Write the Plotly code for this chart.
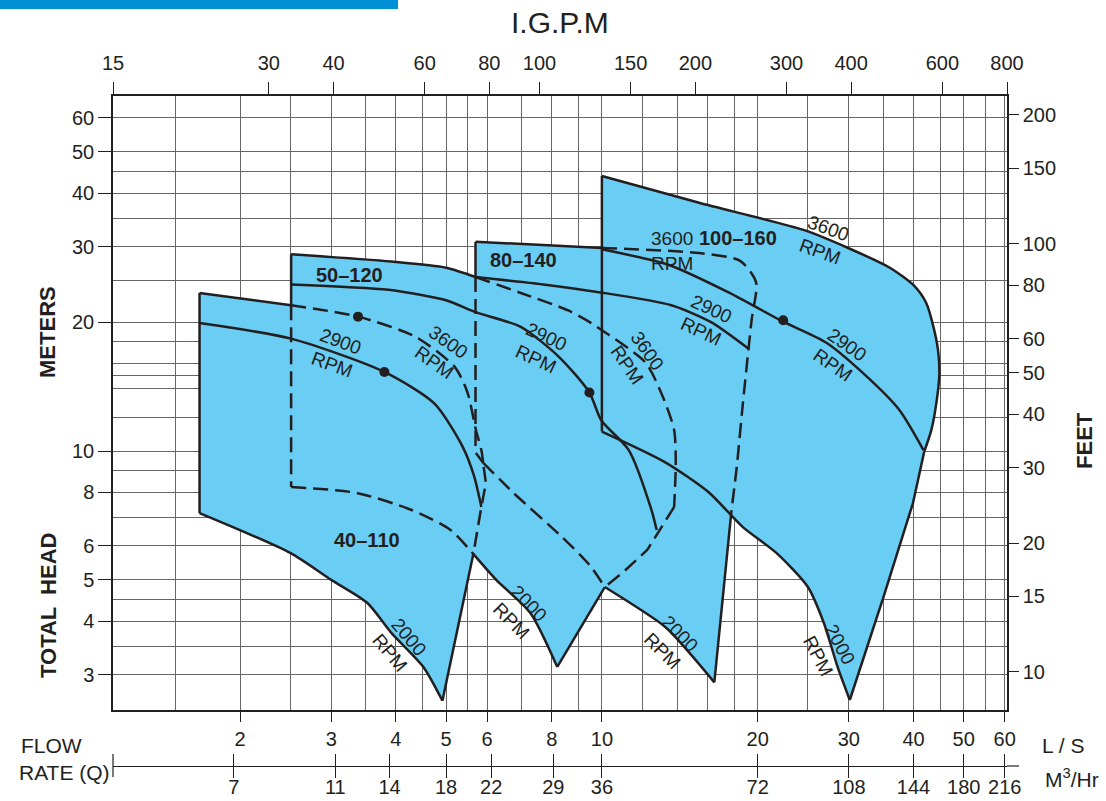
import math
import plotly.graph_objects as go

# ---------------- data: flow Q in L/s, total head H in m ----------------
# Model 40-110
A_Q_3600 = [1.67, 2.51, 3.38, 4.36, 5.20, 5.50, 5.71, 5.85, 5.91]
A_H_3600 = [23.4, 21.9, 20.6, 18.5, 15.7, 13.7, 11.2, 10.05, 9.18]
A_Q_END = [5.91, 5.97, 5.85, 5.65, 4.92]
A_H_END = [9.18, 8.42, 7.40, 5.78, 2.61]
A_Q_2900 = [1.67, 2.51, 3.80, 4.75, 5.39, 5.67, 5.81, 5.85]
A_H_2900 = [19.9, 18.3, 15.3, 12.9, 10.2, 8.70, 7.69, 7.40]
A_Q_2000 = [1.67, 2.50, 3.00, 3.52, 3.92, 4.52, 4.92]
A_H_2000 = [7.16, 5.78, 5.00, 4.42, 3.76, 3.13, 2.61]

# Model 50-120
B_Q_3600 = [2.51, 3.92, 5.00, 5.70, 6.97, 8.61, 9.54, 9.97, 12.14, 13.11, 13.79, 13.89, 13.79]
B_H_3600 = [28.8, 27.7, 26.8, 25.5, 23.4, 21.3, 19.9, 19.2, 16.1, 13.4, 11.2, 9.38, 7.40]
B_Q_END = [13.79, 12.96, 12.23, 10.99, 10.13, 8.20]
B_H_END = [7.40, 6.54, 5.87, 5.21, 4.81, 3.13]
B_Q_2900 = [2.51, 3.87, 5.00, 5.70, 6.97, 8.26, 9.46, 9.97, 11.27, 12.47, 12.76]
B_H_2900 = [24.5, 23.8, 22.5, 21.1, 19.5, 16.6, 13.7, 11.8, 10.05, 7.28, 6.54]
B_Q_2000 = [2.51, 3.36, 4.29, 5.10, 5.67, 6.25, 7.28, 8.20]
B_H_2000 = [8.24, 7.98, 7.28, 6.54, 5.71, 5.00, 4.18, 3.13]

# Model 80-140
C_Q_3600 = [5.70, 7.70, 10.0, 15.41, 18.50, 19.85, 19.46, 18.72, 18.22, 17.80]
C_H_3600 = [30.8, 30.3, 29.8, 29.0, 27.8, 24.8, 20.2, 12.9, 9.18, 7.28]
C_Q_END = [17.80, 16.49]
C_H_END = [7.28, 2.88]
C_Q_2900 = [5.70, 7.70, 9.87, 13.62, 16.25, 19.24]
C_H_2900 = [25.5, 24.5, 23.5, 21.9, 20.0, 17.3]
C_Q_2000 = [5.71, 5.90, 6.75, 8.37, 9.46, 10.13, 13.26, 14.78, 16.49]
C_H_2000 = [9.89, 9.38, 7.98, 6.30, 5.42, 4.81, 3.88, 3.37, 2.88]

# Model 100-160
D_Q_3600 = [10.0, 15.41, 24.61, 29.9, 36.0, 40.0, 42.3, 43.7, 44.6, 44.87, 44.35, 43.3, 41.93]
D_H_3600 = [43.9, 38.0, 32.8, 29.8, 26.8, 24.4, 22.2, 19.5, 17.2, 15.2, 13.15, 11.2, 9.95]
D_Q_END = [41.93, 39.9, 35.0, 30.12]
D_H_END = [9.95, 7.56, 4.56, 2.62]
D_Q_2900 = [10.0, 13.47, 17.53, 22.30, 27.14, 31.96, 37.49, 41.8]
D_H_2900 = [29.6, 27.2, 23.5, 20.1, 17.9, 15.2, 12.5, 10.05]
D_Q_2000 = [10.0, 13.21, 16.06, 18.72, 21.73, 25.0, 26.85, 28.53, 30.12]
D_H_2000 = [11.1, 9.43, 8.02, 6.64, 5.78, 4.81, 3.96, 3.13, 2.62]

# best-efficiency dots
DOT_Q = [3.38, 3.80, 9.46, 22.4]
DOT_H = [20.6, 15.3, 13.7, 20.2]

# axis ticks
LS_TICKS = [2, 3, 4, 5, 6, 8, 10, 20, 30, 40, 50, 60]
M3H_TICKS = [7, 11, 14, 18, 22, 29, 36, 72, 108, 144, 180, 216]
IGPM_TICKS = [15, 30, 40, 60, 80, 100, 150, 200, 300, 400, 600, 800]
M_TICKS = [3, 4, 5, 6, 8, 10, 20, 30, 40, 50, 60]
FT_TICKS = [10, 15, 20, 30, 40, 50, 60, 80, 100, 150, 200]
LS_GRID_MINOR = [1.5, 2.5, 3.5, 4.5, 5.5, 7, 9, 12, 14, 16, 18, 25, 35, 45, 55]
M_GRID_MINOR = [3.5, 4.5, 7, 9, 12, 14, 15, 16, 18, 25, 35, 45]

# unit conversions / ranges
IGPM_PER_LS = 13.198
M3H_PER_LS = 3.6
FT_PER_M = 1 / 0.3048
Q_MIN, Q_MAX = 15 / IGPM_PER_LS, 800 / IGPM_PER_LS
H_MIN, H_MAX = 2.483, 67.5

# ---------------- styling ----------------
INK = "#231f20"
BLUE = "#69cdf4"
GRID = "#666666"
FONT = "Liberation Sans, Arial, Helvetica, sans-serif"
DASH = "15px,7px"
LW = 2.5

fig = go.Figure()


def fill_region(qt, ht, qe, he, qb, hb):
    xs = list(qt) + list(qe[1:]) + list(reversed(qb))[1:]
    ys = list(ht) + list(he[1:]) + list(reversed(hb))[1:]
    fig.add_trace(go.Scatter(x=xs, y=ys, mode="lines", fill="toself",
                             fillcolor=BLUE, line=dict(width=0),
                             hoverinfo="skip", showlegend=False))


def line(q, h, dash="solid", smooth=True):
    fig.add_trace(go.Scatter(
        x=q, y=h, mode="lines",
        line=dict(color=INK, width=LW, dash=dash,
                  shape="spline" if smooth else "linear", smoothing=0.7),
        hoverinfo="skip", showlegend=False))


def split(q, h, k, first="solid", second=DASH, smooth=True):
    line(q[:k + 1], h[:k + 1], first, smooth)
    line(q[k:], h[k:], second, smooth)


fill_region(A_Q_3600, A_H_3600, A_Q_END, A_H_END, A_Q_2000, A_H_2000)
fill_region(B_Q_3600, B_H_3600, B_Q_END, B_H_END, B_Q_2000, B_H_2000)
fill_region(C_Q_3600, C_H_3600, C_Q_END, C_H_END, C_Q_2000, C_H_2000)
fill_region(D_Q_3600, D_H_3600, D_Q_END, D_H_END, D_Q_2000, D_H_2000)

# 40-110
line([A_Q_3600[0]] * 2, [A_H_3600[0], A_H_2000[0]], smooth=False)
split(A_Q_3600, A_H_3600, 1)
split(A_Q_END, A_H_END, 3, DASH, "solid", smooth=False)
line(A_Q_2900, A_H_2900)
line(A_Q_2000, A_H_2000)

# 50-120
line([B_Q_3600[0]] * 2, [B_H_3600[0], A_H_3600[1]], smooth=False)
line([B_Q_3600[0]] * 2, [A_H_3600[1], B_H_2000[0]], DASH, smooth=False)
split(B_Q_3600, B_H_3600, 3)
split(B_Q_END, B_H_END, 4, DASH, "solid", smooth=False)
line(B_Q_2900, B_H_2900)
split(B_Q_2000, B_H_2000, 4, DASH, "solid")

# 80-140
line([C_Q_3600[0]] * 2, [C_H_3600[0], C_H_2900[0]], smooth=False)
line([C_Q_3600[0]] * 2, [C_H_2900[0], C_H_2000[0]], DASH, smooth=False)
split(C_Q_3600, C_H_3600, 2)
line(C_Q_END, C_H_END, smooth=False)
line(C_Q_2900, C_H_2900)
line(C_Q_2000[:2], C_H_2000[:2], smooth=False)
line(C_Q_2000[1:6], C_H_2000[1:6], DASH)
line(C_Q_2000[5:], C_H_2000[5:])

# 100-160
line([D_Q_3600[0]] * 2, [D_H_3600[0], D_H_2000[0]], smooth=False)
line(D_Q_3600, D_H_3600)
line(D_Q_END, D_H_END, smooth=False)
line(D_Q_2900, D_H_2900)
line(D_Q_2000, D_H_2000)

fig.add_trace(go.Scatter(x=DOT_Q, y=DOT_H, mode="markers",
                         marker=dict(color=INK, size=10),
                         hoverinfo="skip", showlegend=False))

# empty traces so that the secondary unit axes (IGPM, feet, m3/h) get drawn
for xa, ya in (("x2", "y"), ("x", "y2"), ("x3", "y"), ("x4", "y"), ("x5", "y")):
    fig.add_trace(go.Scatter(x=[], y=[], xaxis=xa, yaxis=ya, mode="markers",
                             hoverinfo="skip", showlegend=False))


# ---------------- curve labels ----------------
def label(text, q, h, angle=0, bold=False, size=19):
    fig.add_annotation(x=math.log10(q), y=math.log10(h), xref="x", yref="y",
                       text=f"<b>{text}</b>" if bold else text,
                       showarrow=False, textangle=angle,
                       font=dict(family=FONT, size=size, color=INK))


label("50–120", 3.25, 25.8, bold=True, size=20)
label("80–140", 7.06, 27.9, bold=True, size=20)
label("100–160", 18.3, 31.4, bold=True, size=20)
label("40–110", 3.52, 6.2, bold=True, size=20)
label("3600<br>RPM", 13.67, 29.3)
label("2900<br>RPM", 3.06, 16.9, 20)
label("3600<br>RPM", 4.88, 17.0, 35)
label("2900<br>RPM", 7.63, 17.4, 25)
label("3600<br>RPM", 11.7, 16.5, 55)
label("2900<br>RPM", 15.86, 20.2, 25)
label("3600<br>RPM", 26.85, 31.1, 20)
label("2900<br>RPM", 28.84, 16.8, 35)
label("2000<br>RPM", 4.06, 3.52, 50)
label("2000<br>RPM", 6.94, 4.21, 45)
label("2000<br>RPM", 13.57, 3.58, 45)
label("2000<br>RPM", 27.44, 3.43, 62)


# ---------------- axis titles / texts in page space ----------------
def ptext(text, x, y, size=21, angle=0, xanchor="center"):
    fig.add_annotation(x=x, y=y, xref="paper", yref="paper", text=text,
                       showarrow=False, textangle=angle, xanchor=xanchor,
                       yanchor="middle",
                       font=dict(family=FONT, size=size, color=INK))


ptext("I.G.P.M", 0.5, 1.1104, size=30)
ptext("<b>METERS</b>", -0.0727, 0.6478, size=22, angle=-90)
ptext("<b>TOTAL  HEAD</b>", -0.0727, 0.2388, size=22, angle=-90)
ptext("<b>FEET</b>", 1.0872, 0.4866, size=22, angle=-90)
ptext("FLOW", -0.1051, 0.0299, xanchor="left")
ptext("RATE (Q)", -0.1074, -0.0090, xanchor="left")
ptext("L / S", 1.0626, 0.0313)
ptext("M<sup>3</sup>/Hr", 1.0727, -0.0179)

fig.add_shape(type="rect", xref="paper", yref="paper", x0=-0.1264, x1=0.3188,
              y0=1.1299, y1=1.16, fillcolor="#0090d6", line=dict(width=0))
fig.add_shape(type="line", xref="paper", yref="paper", x0=1.0, x1=1.0134,
              y0=0, y1=0, line=dict(color=INK, width=1.2))
fig.add_shape(type="line", xref="paper", yref="paper", x0=0, x1=0,
              y0=-0.0164, y1=0.0179, line=dict(color=INK, width=1.2))

tickfont = dict(family=FONT, size=20, color=INK)
logq = [math.log10(Q_MIN), math.log10(Q_MAX)]
logm3h = [math.log10(Q_MIN * M3H_PER_LS), math.log10(Q_MAX * M3H_PER_LS)]

fig.update_layout(
    width=1106, height=801, autosize=False,
    margin=dict(l=113, r=99, t=96, b=35, autoexpand=False),
    paper_bgcolor="white", plot_bgcolor="white",
    xaxis=dict(type="log", range=logq, tickvals=LS_TICKS,
               ticktext=[str(v) for v in LS_TICKS],
               ticks="outside", ticklen=10, tickcolor=INK, tickwidth=1,
               showline=True, linecolor=INK, linewidth=1.5,
               showgrid=True, gridcolor=GRID, gridwidth=1,
               minor=dict(tickvals=LS_GRID_MINOR, showgrid=True,
                          gridcolor=GRID, gridwidth=1, ticks=""),
               tickfont=tickfont, zeroline=False, anchor="y", automargin=False),
    xaxis2=dict(type="log", overlaying="x", side="top", anchor="y",
                range=[math.log10(Q_MIN * IGPM_PER_LS), math.log10(Q_MAX * IGPM_PER_LS)],
                tickvals=IGPM_TICKS, ticktext=[str(v) for v in IGPM_TICKS],
                ticks="outside", ticklen=12, tickcolor=INK, tickwidth=1,
                showline=True, linecolor=INK, linewidth=1.5,
                showgrid=False, zeroline=False, tickfont=tickfont,
                ticklabelstandoff=4, automargin=False),
    # m3/h labels (no ticks so they sit close to the line)
    xaxis3=dict(type="log", overlaying="x", anchor="free", position=0,
                range=logm3h, tickvals=M3H_TICKS,
                ticktext=[str(v) for v in M3H_TICKS],
                ticks="", showline=True, linecolor=INK, linewidth=1.2,
                showgrid=False, zeroline=False, tickfont=tickfont,
                ticklabelstandoff=3, automargin=False),
    # crossing tick marks on the m3/h line
    xaxis4=dict(type="log", overlaying="x", anchor="free", position=0,
                range=logm3h, tickvals=M3H_TICKS, showticklabels=False,
                ticks="inside", ticklen=12, tickcolor=INK, tickwidth=1,
                showline=False, showgrid=False, zeroline=False, automargin=False),
    xaxis5=dict(type="log", overlaying="x", anchor="free", position=0,
                range=logm3h, tickvals=M3H_TICKS, showticklabels=False,
                ticks="outside", ticklen=11, tickcolor=INK, tickwidth=1,
                showline=False, showgrid=False, zeroline=False, automargin=False),
    yaxis=dict(type="log", range=[math.log10(H_MIN), math.log10(H_MAX)],
               domain=[0.0836, 1.0],
               tickvals=M_TICKS, ticktext=[str(v) for v in M_TICKS],
               ticks="outside", ticklen=13, tickcolor=INK, tickwidth=1,
               showline=True, linecolor=INK, linewidth=1.5,
               showgrid=True, gridcolor=GRID, gridwidth=1,
               minor=dict(tickvals=M_GRID_MINOR, showgrid=True,
                          gridcolor=GRID, gridwidth=1, ticks=""),
               tickfont=tickfont, zeroline=False, automargin=False),
    yaxis2=dict(type="log", overlaying="y", side="right", anchor="x",
                range=[math.log10(H_MIN * FT_PER_M), math.log10(H_MAX * FT_PER_M)],
                tickvals=FT_TICKS, ticktext=[str(v) for v in FT_TICKS],
                ticks="outside", ticklen=10, tickcolor=INK, tickwidth=1,
                showline=True, linecolor=INK, linewidth=1.5,
                showgrid=False, zeroline=False, tickfont=tickfont, automargin=False),
)

fig.write_html("out.html", config={"displayModeBar": False},
               post_script="document.body.style.margin='0';"
                           "document.body.style.overflow='hidden';")
